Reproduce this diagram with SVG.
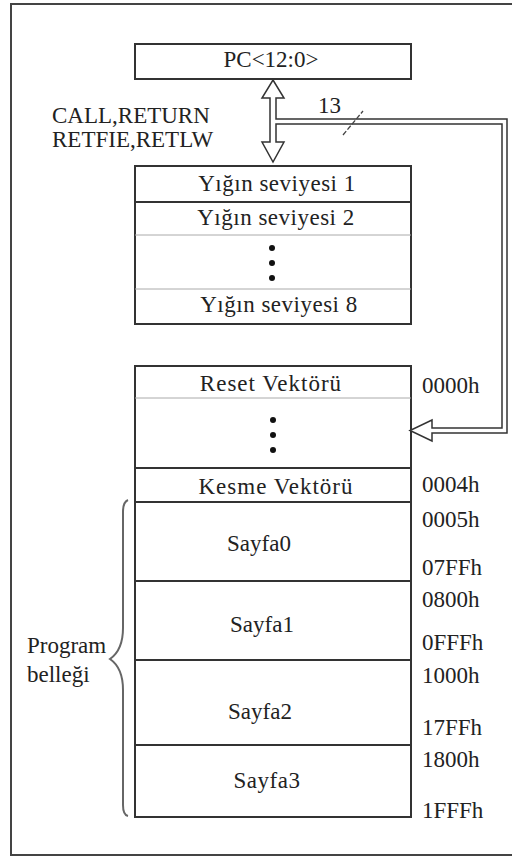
<svg xmlns="http://www.w3.org/2000/svg" width="512" height="858" viewBox="0 0 512 858" font-family="'Times New Roman', 'Liberation Serif', Tinos, 'Noto Serif', 'DejaVu Serif', serif">
<style>
text{font-family:"Times New Roman","Liberation Serif",Tinos,"Noto Serif","DejaVu Serif",serif;font-size:23px;fill:#222}
.c{text-anchor:middle}
.ls{letter-spacing:0.5px}
.ls1{letter-spacing:1px}
.box{fill:#fff;stroke:#333;stroke-width:2}
.thin{stroke:#aaa;stroke-width:1}
.thick{stroke:#333;stroke-width:2}
.dot{fill:#111}
</style>
<rect x="11" y="4" width="504" height="851" fill="#fff" stroke="#444" stroke-width="2"/>
<g id="pc">
<rect class="box" x="135" y="44" width="276" height="35"/>
<text class="c" x="271" y="67">PC&lt;12:0&gt;</text>
</g>
<g id="instr">
<text x="52" y="123">CALL,RETURN</text>
<text x="52" y="147">RETFIE,RETLW</text>
</g>
<g id="stack">
<rect class="box" x="135" y="166" width="276" height="158"/>
<line class="thick" x1="135" y1="202" x2="411" y2="202"/>
<line class="thin" x1="135" y1="235" x2="411" y2="235"/>
<line class="thin" x1="135" y1="289" x2="411" y2="289"/>
<text class="c ls" x="277" y="191">Yığın seviyesi 1</text>
<text class="c ls" x="276" y="225">Yığın seviyesi 2</text>
<circle class="dot" cx="272" cy="248" r="3"/>
<circle class="dot" cx="272" cy="263" r="3"/>
<circle class="dot" cx="272" cy="278" r="3"/>
<text class="c ls" x="279" y="312">Yığın seviyesi 8</text>
</g>
<g id="memory">
<rect class="box" x="135" y="366" width="276" height="451"/>
<line class="thin" x1="135" y1="398" x2="411" y2="398"/>
<line class="thick" x1="135" y1="468" x2="411" y2="468"/>
<line class="thick" x1="135" y1="502" x2="411" y2="502"/>
<line class="thick" x1="135" y1="581" x2="411" y2="581"/>
<line class="thick" x1="135" y1="660" x2="411" y2="660"/>
<line class="thick" x1="135" y1="745" x2="411" y2="745"/>
<text class="c ls1" x="271" y="391">Reset Vektörü</text>
<circle class="dot" cx="273" cy="420" r="3"/>
<circle class="dot" cx="273" cy="435" r="3"/>
<circle class="dot" cx="273" cy="450" r="3"/>
<text class="c ls1" x="276" y="494">Kesme Vektörü</text>
<text class="c" x="259" y="551">Sayfa0</text>
<text class="c" x="262" y="632">Sayfa1</text>
<text class="c" x="260" y="719">Sayfa2</text>
<text class="c ls" x="267" y="788">Sayfa3</text>
</g>
<g id="addresses">
<text x="422" y="393">0000h</text>
<text x="422" y="492">0004h</text>
<text x="422" y="527">0005h</text>
<text x="422" y="575">07FFh</text>
<text x="422" y="607">0800h</text>
<text x="422" y="650">0FFFh</text>
<text x="422" y="683">1000h</text>
<text x="422" y="735">17FFh</text>
<text x="422" y="767">1800h</text>
<text x="422" y="818">1FFFh</text>
</g>
<g id="program-label">
<path d="M128,500 Q123,502 123,512 L123,628 Q123,650 110,659 Q123,668 123,690 L123,805 Q123,815 128,816" fill="none" stroke="#666" stroke-width="2"/>
<text x="27" y="653">Program</text>
<text x="27" y="682">belleği</text>
</g>
<g id="connectors">
<path d="M273,80 L284,98 L276,98 L276,119 L507,119 L507,433 L432,433 L432,441 L410,430.5 L432,420 L432,428 L502,428 L502,124 L276,124 L276,142 L284,142 L273,162 L262,142 L270,142 L270,98 L262,98 Z" fill="#fff" stroke="#333" stroke-width="1.5" stroke-linejoin="miter"/>
<line x1="343" y1="135" x2="363" y2="111" stroke="#444" stroke-width="1.3" stroke-dasharray="5,2"/>
<text x="318" y="113">13</text>
</g>
</svg>
